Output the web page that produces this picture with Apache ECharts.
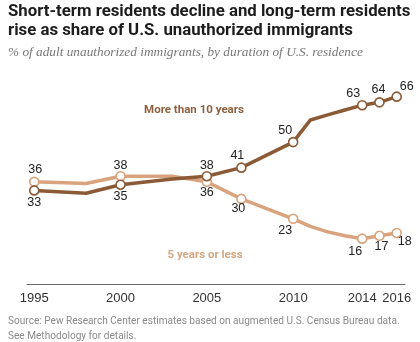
<!DOCTYPE html>
<html><head><meta charset="utf-8">
<script src="https://cdn.jsdelivr.net/npm/echarts@6/dist/echarts.min.js"></script>
<style>html,body{margin:0;padding:0;background:#fff}#chart{width:420px;height:342px}</style>
</head><body><div id="chart"></div>
<script>
// Share of adult unauthorized immigrants by duration of U.S. residence (%)
const years = [1995, 1998, 2000, 2003, 2005, 2007, 2010, 2011, 2012, 2013, 2014, 2015, 2016];
const moreThan10 = [33, 32, 35, 37, 38, 41, 50, 57.8, 59.6, 61.3, 63, 64, 66];
const fiveOrLess = [36, 35.4, 38, 38, 36, 30, 23, 20.3, 18.4, 17, 16, 17, 18];
const markedYears = [1995, 2000, 2005, 2007, 2010, 2014, 2015, 2016];
const tickYears = [1995, 2000, 2005, 2010, 2014, 2016];

// label offsets from the marker, per marked year
const longOffsets = {1995:[0,12],2000:[0,12],2005:[0,-11],2007:[-4,-12],2010:[-8,-12],2014:[-9,-12],2015:[-1,-13],2016:[10,-10]};
const shortOffsets = {1995:[1,-12],2000:[0,-11],2005:[0,11],2007:[-3,10],2010:[-8,12],2014:[-7,13],2015:[2,11],2016:[8,9]};

const DARK = '#8B5A36';
const LIGHT = '#D8A37D';

function buildData(values, color, offsets) {
  return years.map((y, i) => {
    const marked = markedYears.includes(y);
    const item = { value: [y, values[i]] };
    if (marked) {
      item.symbol = 'circle';
      item.symbolSize = 9;
      item.itemStyle = { color: '#fff', borderColor: color, borderWidth: 1.6 };
      item.label = {
        show: true, position: 'inside', offset: offsets[y],
        formatter: () => String(values[i]),
        color: '#222', fontSize: 12.5, fontFamily: 'Liberation Sans, Arial, sans-serif'
      };
    } else {
      item.symbol = 'none';
    }
    return item;
  });
}

const chart = echarts.init(document.getElementById('chart'), null, { renderer: 'canvas' });
chart.setOption({
  animation: false,
  backgroundColor: '#fff',
  grid: { left: 27, right: 15, top: 85.3, bottom: 57.9, containLabel: false },
  xAxis: {
    type: 'value', min: 1994.58, max: 2016.48,
    axisLine: { show: true, lineStyle: { color: '#666', width: 1 } },
    axisTick: { show: false },
    splitLine: { show: false },
    axisLabel: {
      customValues: tickYears, color: '#333', fontSize: 13, margin: 8,
      fontFamily: 'Liberation Sans, Arial, sans-serif',
      formatter: v => String(v)
    }
  },
  yAxis: { type: 'value', min: 0, max: 70, show: false },
  series: [
    {
      name: '5 years or less', type: 'line', z: 2,
      lineStyle: { color: LIGHT, width: 3.5, join: 'round', cap: 'round' },
      itemStyle: { color: '#fff', borderColor: LIGHT },
      data: buildData(fiveOrLess, LIGHT, shortOffsets)
    },
    {
      name: 'More than 10 years', type: 'line', z: 3,
      lineStyle: { color: DARK, width: 3.5, join: 'round', cap: 'round' },
      itemStyle: { color: '#fff', borderColor: DARK },
      data: buildData(moreThan10, DARK, longOffsets)
    }
  ],
  graphic: [
    { type: 'text', left: 8, top: 3, style: { text: 'Short-term residents decline and long-term residents', fill: '#1c1c1c', font: 'bold 16.8px Roboto, sans-serif' } },
    { type: 'text', left: 8, top: 22, style: { text: 'rise as share of U.S. unauthorized immigrants', fill: '#1c1c1c', font: 'bold 16.8px Roboto, sans-serif' } },
    { type: 'text', left: 8, top: 46, style: { text: '% of adult unauthorized immigrants, by duration of U.S. residence', fill: '#777', font: 'italic 13.3px "Liberation Serif", serif' } },
    { type: 'text', x: 194, y: 110, style: { text: 'More than 10 years', fill: '#8E6040', align: 'center', verticalAlign: 'middle', font: 'bold 11.5px Roboto, sans-serif' } },
    { type: 'text', x: 205, y: 255, style: { text: '5 years or less', fill: '#D5A781', align: 'center', verticalAlign: 'middle', font: 'bold 11.5px Roboto, sans-serif' } },
    { type: 'text', left: 8, top: 316, style: { text: 'Source: Pew Research Center estimates based on augmented U.S. Census Bureau data.', fill: '#8a8a8a', font: '10.1px Roboto, sans-serif' } },
    { type: 'text', left: 8, top: 331, style: { text: 'See Methodology for details.', fill: '#8a8a8a', font: '10.1px Roboto, sans-serif' } }
  ]
});
</script></body></html>
